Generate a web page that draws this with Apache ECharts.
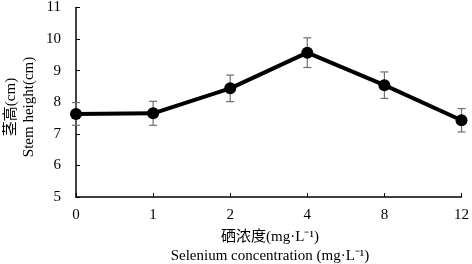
<!DOCTYPE html>
<html>
<head>
<meta charset="utf-8">
<script src="https://cdn.jsdelivr.net/npm/echarts@6/dist/echarts.min.js"></script>
<style>
  html, body { margin: 0; padding: 0; background: #fff; }
  #chart { width: 472px; height: 264px; }
</style>
</head>
<body>
<div id="chart"></div>
<script>
  // 硒浓度 (mg/L)
  var categories = ['0', '1', '2', '4', '8', '12']
  // 茎高 (cm)
  var heights = [7.63, 7.65, 8.44, 9.57, 8.54, 7.43]
  var errors = [0.36, 0.38, 0.42, 0.47, 0.42, 0.37]
  var yTicks = [5, 6, 7, 8, 9, 10, 11]

  var serif = '"Liberation Serif", "Noto Sans CJK SC", serif'
  var chart = echarts.init(document.getElementById('chart'))

  var option = {
    animation: false,
    grid: {
      left: 76,
      right: 9,
      top: 7,
      bottom: 67
    },
    xAxis: {
      type: 'category',
      data: categories,
      boundaryGap: false,
      axisLine: { lineStyle: { color: '#000', width: 1.5 } },
      axisTick: { inside: true, length: 4, lineStyle: { color: '#000' } },
      axisLabel: { color: '#000', fontFamily: serif, fontSize: 15, margin: 11 },
      splitLine: { show: false }
    },
    yAxis: {
      type: 'value',
      min: yTicks[0],
      max: yTicks[yTicks.length - 1],
      interval: 1,
      axisLine: { show: true, lineStyle: { color: '#000', width: 1.5 } },
      axisTick: { show: true, inside: true, length: 4, lineStyle: { color: '#000' } },
      axisLabel: { color: '#000', fontFamily: serif, fontSize: 15, margin: 15 },
      splitLine: { show: false }
    },
    graphic: [
      {
        type: 'text',
        x: 270,
        y: 237,
        style: {
          text: '硒浓度(mg·L⁻¹)',
          fill: '#000',
          font: '15px ' + serif,
          align: 'center',
          verticalAlign: 'middle'
        }
      },
      {
        type: 'text',
        x: 270,
        y: 256,
        style: {
          text: 'Selenium concentration (mg·L⁻¹)',
          fill: '#000',
          font: '15px ' + serif,
          align: 'center',
          verticalAlign: 'middle'
        }
      },
      {
        type: 'text',
        rotation: Math.PI / 2,
        x: 11,
        y: 107,
        style: {
          text: '茎高(cm)',
          fill: '#000',
          font: '15px ' + serif,
          align: 'center',
          verticalAlign: 'middle'
        }
      },
      {
        type: 'text',
        rotation: Math.PI / 2,
        x: 29,
        y: 107,
        style: {
          text: 'Stem height(cm)',
          fill: '#000',
          font: '15px ' + serif,
          align: 'center',
          verticalAlign: 'middle'
        }
      }
    ],
    series: [
      {
        type: 'custom',
        z: 1,
        renderItem: function (params, api) {
          var x = api.value(0)
          var top = api.coord([x, api.value(1) + api.value(2)])
          var bot = api.coord([x, api.value(1) - api.value(2)])
          var w = 4
          var st = { stroke: '#707070', lineWidth: 1.2 }
          return {
            type: 'group',
            children: [
              { type: 'line', shape: { x1: top[0], y1: top[1], x2: bot[0], y2: bot[1] }, style: st },
              { type: 'line', shape: { x1: top[0] - w, y1: top[1], x2: top[0] + w, y2: top[1] }, style: st },
              { type: 'line', shape: { x1: bot[0] - w, y1: bot[1], x2: bot[0] + w, y2: bot[1] }, style: st }
            ]
          }
        },
        data: heights.map(function (v, i) { return [i, v, errors[i]] })
      },
      {
        type: 'line',
        z: 3,
        data: heights,
        symbol: 'circle',
        symbolSize: 12,
        lineStyle: { color: '#000', width: 4 },
        itemStyle: { color: '#000' }
      }
    ]
  }
  chart.setOption(option)
</script>
</body>
</html>
